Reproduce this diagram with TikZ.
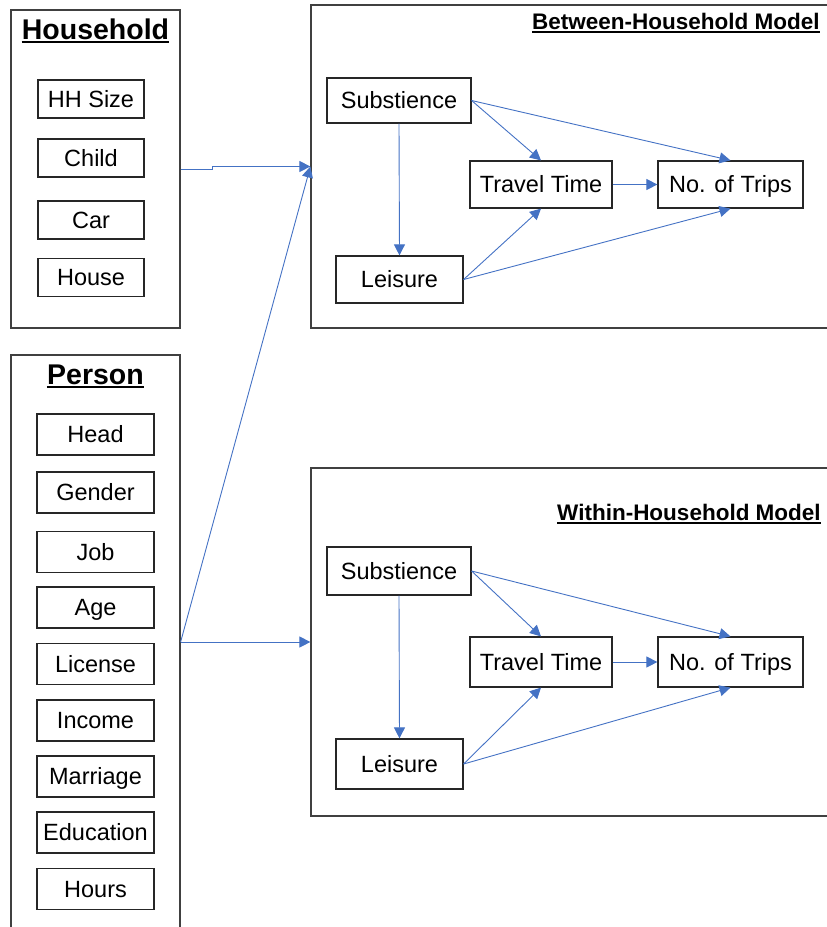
\documentclass[tikz,border=0pt]{standalone}
\usepackage{fontspec}
\setmainfont{Liberation Sans}
\usetikzlibrary{arrows.meta}
\definecolor{linkblue}{RGB}{68,114,196}
\definecolor{framegray}{RGB}{64,64,64}
\begin{document}
\begin{tikzpicture}[x=1pt,y=-1pt,
  box/.style={draw=black!85, line width=1.2pt, inner sep=0pt, align=center,
    text height=16.5pt, text depth=0pt, font=\fontsize{23.5}{27}\selectfont},
  panel/.style={draw=framegray, line width=1.2pt, inner sep=0pt},
  head/.style={inner sep=0pt, anchor=base, font=\fontsize{28.5}{32}\selectfont\bfseries},
  mhead/.style={inner sep=0pt, anchor=base west, font=\fontsize{22.5}{27}\selectfont\bfseries},
  uline/.style={line width=1.8pt},
  link/.style={draw=linkblue, line width=0.9pt, -{Triangle[length=11pt,width=11pt]}}
]
\useasboundingbox (0,0) rectangle (827,927);

% ---- household block ----
\node[panel, minimum width=169pt, minimum height=318pt] (hh) at (95.5,169) {};
\node[head] (hht) at (95.5,39) {Household};
\draw[uline] ([yshift=-3pt]hht.base west) -- ([yshift=-3pt]hht.base east);
\begin{scope}[every node/.style={box, minimum width=106pt, minimum height=38pt}]
  \node (hsize) at (91,99)    {HH Size};
  \node (child) at (91,158)   {Child};
  \node (car)   at (91,220)   {Car};
  \node (house) at (91,277.5) {House};
\end{scope}

% ---- person block ----
\node[panel, minimum width=169pt, minimum height=574pt] (pp) at (95.5,642) {};
\node[head] (ppt) at (95.5,384) {Person};
\draw[uline] ([yshift=-3pt]ppt.base west) -- ([yshift=-3pt]ppt.base east);
\begin{scope}[every node/.style={box, minimum width=117pt, minimum height=41pt}]
  \node (head)   at (95.5,434.5) {Head};
  \node (gender) at (95.5,492.5) {Gender};
  \node (job)    at (95.5,552)   {Job};
  \node (age)    at (95.5,607.5) {Age};
  \node (lic)    at (95.5,664)   {License};
  \node (inc)    at (95.5,720.5) {Income};
  \node (mar)    at (95.5,776.5) {Marriage};
  \node (edu)    at (95.5,832.5) {Education};
  \node (hours)  at (95.5,889)   {Hours};
\end{scope}

% ---- between-household model ----
\node[panel, minimum width=529pt, minimum height=323pt] (bm) at (575.5,166.5) {};
\node[mhead] (bmt) at (532,29.5) {Between-Household Model};
\draw[uline] ([yshift=-2.5pt]bmt.base west) -- ([yshift=-2.5pt]bmt.base east);
\node[box, minimum width=144pt, minimum height=45pt] (sub1) at (399,100.5) {Substience};
\node[box, minimum width=142pt, minimum height=47pt] (tt1)  at (541,184.5) {Travel Time};
\node[box, minimum width=145pt, minimum height=47pt] (nt1)  at (730.5,184.5) {No. of Trips};
\node[box, minimum width=127pt, minimum height=47pt] (le1)  at (399.5,279.5) {Leisure};
\draw[link] (sub1.south) -- (le1.north);
\draw[link] (sub1.east) -- (tt1.north);
\draw[link] (sub1.east) -- (nt1.north);
\draw[link] (tt1.east) -- (nt1.west);
\draw[link] (le1.east) -- (tt1.south);
\draw[link] (le1.east) -- (nt1.south);

% ---- within-household model ----
\node[panel, minimum width=529pt, minimum height=348pt] (wm) at (575.5,642) {};
\node[mhead] (wmt) at (557,520.5) {Within-Household Model};
\draw[uline] ([yshift=-2.5pt]wmt.base west) -- ([yshift=-2.5pt]wmt.base east);
\node[box, minimum width=144pt, minimum height=48pt] (sub2) at (399,571) {Substience};
\node[box, minimum width=142pt, minimum height=50pt] (tt2)  at (541,662) {Travel Time};
\node[box, minimum width=145pt, minimum height=50pt] (nt2)  at (730.5,662) {No. of Trips};
\node[box, minimum width=127pt, minimum height=50pt] (le2)  at (399.5,764) {Leisure};
\draw[link] (sub2.south) -- (le2.north);
\draw[link] (sub2.east) -- (tt2.north);
\draw[link] (sub2.east) -- (nt2.north);
\draw[link] (tt2.east) -- (nt2.west);
\draw[link] (le2.east) -- (tt2.south);
\draw[link] (le2.east) -- (nt2.south);

% ---- inputs into the models ----
\draw[link] (hh.east) -- ++(32,0) |- (bm.west);
\draw[link] (pp.east) -- (bm.west);
\draw[link] (pp.east) -- (wm.west);
\end{tikzpicture}
\end{document}
